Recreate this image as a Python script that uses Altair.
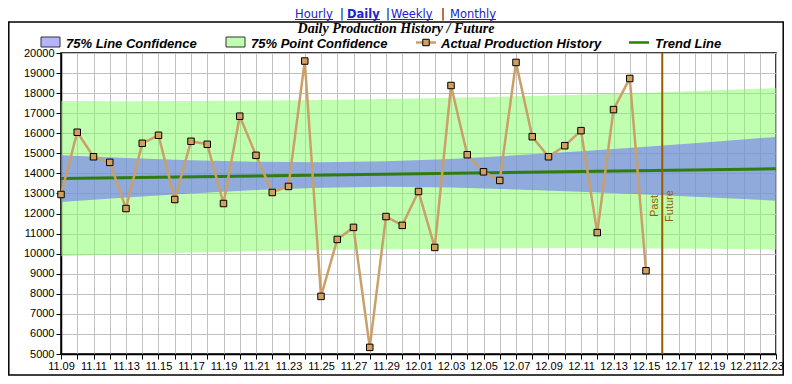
import altair as alt
import pandas as pd

# ---------------- data ----------------
hist_dates = pd.date_range("2023-11-09", "2023-12-15", freq="D").strftime("%Y-%m-%d").tolist()
production = [12950, 16050, 14830, 14550, 12250, 15500, 15900, 12700, 15600, 15450,
              12500, 16850, 14900, 13050, 13350, 19600, 7870, 10710, 11310, 5330,
              11850, 11410, 13100, 10310, 18380, 14930, 14080, 13650, 19530, 15830,
              14830, 15380, 16130, 11050, 17180, 18730, 9150]

band_dates = ["2023-11-09", "2023-11-13", "2023-11-17", "2023-11-21", "2023-11-25", "2023-11-29",
              "2023-12-03", "2023-12-07", "2023-12-11", "2023-12-15", "2023-12-19", "2023-12-23"]
line_lo = [12570, 12800, 13000, 13170, 13290, 13330, 13300, 13200, 13090, 12950, 12800, 12640]
line_hi = [14910, 14770, 14660, 14580, 14550, 14600, 14720, 14900, 15110, 15330, 15570, 15820]
point_lo = [9870, 9970, 10050, 10120, 10180, 10220, 10250, 10270, 10280, 10260, 10240, 10210]
point_hi = [17610, 17600, 17610, 17630, 17660, 17710, 17770, 17840, 17920, 18020, 18130, 18250]

trend_dates = ["2023-11-09", "2023-12-23"]
trend_vals = [13740, 14230]

future_start = ["2023-12-16"]
y_ticks = list(range(5000, 20001, 1000))
x_start, x_end = "2023-11-09", "2023-12-23"

# ---------------- helpers ----------------
def ms(d):
    return int(pd.Timestamp(d, tz="UTC").value // 10**6)

T0, T1 = ms(x_start), ms(x_end)
tick_vals = [ms(d) for d in pd.date_range(x_start, x_end, freq="D")]

hist_df = pd.DataFrame({"date": hist_dates, "value": production})
band_df = pd.DataFrame({"date": band_dates, "line_lo": line_lo, "line_hi": line_hi,
                        "point_lo": point_lo, "point_hi": point_hi})
trend_df = pd.DataFrame({"date": trend_dates, "value": trend_vals})
future_df = pd.DataFrame({"date": future_start})
one = alt.Data(values=[{"k": 1}])

xscale = alt.Scale(type="utc", domain=[T0, T1], nice=False)
yscale = alt.Scale(domain=[5000, 20000], nice=False, zero=False)

x_axis = alt.Axis(values=tick_vals, tickCount=200, title=None, labelAngle=0, tickSize=5,
                  labelPadding=1, labelFontSize=11, labelFlush=False, labelOverlap=False,
                  labelOffset={"condition": {"test": f"datum.value >= {T1}", "value": -6.5},
                               "value": 0},
                  labelExpr=f"(round((datum.value - {T0}) / 86400000) % 2 == 0) ? utcFormat(datum.value, '%m.%d') : ''")
y_axis = alt.Axis(values=y_ticks, tickCount=200, format="d", title=None, tickSize=5,
                  labelPadding=2, labelFontSize=11, labelOverlap=False, labelFlush=False)

X = alt.X("date:T", scale=xscale, axis=x_axis)
Xn = alt.X("date:T", scale=xscale)

point_band = alt.Chart(band_df).mark_area(color="#81ff61", opacity=0.5).encode(
    x=X, y=alt.Y("point_lo:Q", scale=yscale, axis=y_axis), y2=alt.Y2("point_hi:Q"))
line_band = alt.Chart(band_df).mark_area(color="#6e71f9", opacity=0.6).encode(
    x=Xn, y=alt.Y("line_lo:Q", scale=yscale), y2=alt.Y2("line_hi:Q"))
trend = alt.Chart(trend_df).mark_line(color="#2e7d0e", strokeWidth=3).encode(
    x=Xn, y=alt.Y("value:Q", scale=yscale))
hist_line = alt.Chart(hist_df).mark_line(color="#caa068", strokeWidth=2.5).encode(
    x=Xn, y=alt.Y("value:Q", scale=yscale))
hist_pts = alt.Chart(hist_df).mark_square(size=42, fill="#d29f5e", stroke="black",
                                         strokeWidth=1, opacity=1).encode(
    x=Xn, y=alt.Y("value:Q", scale=yscale))

future_rule = alt.Chart(future_df).mark_rule(color="#9a5c00", strokeWidth=2).encode(
    x=Xn, y=alt.value(0), y2=alt.value(301))
past_txt = alt.Chart(future_df).mark_text(text="Past", angle=270, align="center",
                                          baseline="bottom", dy=-2, font="Liberation Sans",
                                          fontSize=11, color="#9a5c00").encode(
    x=Xn, y=alt.value(153))
future_txt = alt.Chart(future_df).mark_text(text="Future", angle=270, align="center",
                                            baseline="top", dy=2, font="Liberation Sans",
                                            fontSize=11, color="#9a5c00").encode(
    x=Xn, y=alt.value(153))

# ---------------- decorations: frame, links, title, legend ----------------
deco = []
deco.append(alt.Chart(one).mark_rect(fill=None, stroke="black", strokeWidth=1.5).encode(
    x=alt.value(-52.2), x2=alt.value(722.2), y=alt.value(-31), y2=alt.value(322)))

link_color = "#2020d0"
link_base = -35
link_font = dict(font="DejaVu Sans", fontSize=11.5, align="left", baseline="alphabetic")
links = [("Hourly", 234, 272, "normal"), ("Daily", 286, 319, "bold"),
         ("Weekly", 330, 372, "normal"), ("Monthly", 389, 435, "normal")]
for word, x0, x1, wt in links:
    deco.append(alt.Chart(one).mark_text(text=word, fontWeight=wt, color=link_color,
                                         **link_font).encode(
        x=alt.value(x0), y=alt.value(link_base)))
    deco.append(alt.Chart(one).mark_rule(color=link_color, strokeWidth=1).encode(
        x=alt.value(x0), x2=alt.value(x1), y=alt.value(link_base + 1.5)))
for xs in [279, 325, 380]:
    deco.append(alt.Chart(one).mark_text(text="|", color="black", **link_font).encode(
        x=alt.value(xs), y=alt.value(link_base)))

deco.append(alt.Chart(one).mark_text(text="Daily Production History / Future", align="center",
                                     baseline="middle", font="Liberation Serif", fontSize=14,
                                     fontStyle="italic", fontWeight="bold",
                                     color="black").encode(
    x=alt.value(335), y=alt.value(-24)))

leg_font = dict(font="Liberation Sans", fontSize=13, fontStyle="italic", fontWeight="bold",
                color="black", align="left", baseline="alphabetic")
deco.append(alt.Chart(one).mark_rect(fill="#b4b5fc", stroke="#333333", strokeWidth=1).encode(
    x=alt.value(-20), x2=alt.value(-1), y=alt.value(-16), y2=alt.value(-6)))
deco.append(alt.Chart(one).mark_text(text="75% Line Confidence", **leg_font).encode(
    x=alt.value(5), y=alt.value(-5.5)))
deco.append(alt.Chart(one).mark_rect(fill="#c0ffb0", stroke="#333333", strokeWidth=1).encode(
    x=alt.value(165), x2=alt.value(184), y=alt.value(-16), y2=alt.value(-6)))
deco.append(alt.Chart(one).mark_text(text="75% Point Confidence", **leg_font).encode(
    x=alt.value(190), y=alt.value(-5.5)))
deco.append(alt.Chart(one).mark_rule(color="#caa068", strokeWidth=2.5).encode(
    x=alt.value(355), x2=alt.value(375), y=alt.value(-10.5)))
deco.append(alt.Chart(one).mark_square(size=42, fill="#d29f5e", stroke="black",
                                       strokeWidth=1, opacity=1).encode(
    x=alt.value(365), y=alt.value(-10.5)))
deco.append(alt.Chart(one).mark_text(text="Actual Production History", **leg_font).encode(
    x=alt.value(380), y=alt.value(-5.5)))
deco.append(alt.Chart(one).mark_rule(color="#2e7d0e", strokeWidth=2.5).encode(
    x=alt.value(568), x2=alt.value(588), y=alt.value(-10.5)))
deco.append(alt.Chart(one).mark_text(text="Trend Line", **leg_font).encode(
    x=alt.value(594), y=alt.value(-5.5)))

chart = alt.layer(point_band, line_band, trend, hist_line, hist_pts, future_rule,
                  past_txt, future_txt, *deco).properties(
    width=715, height=301,
    autosize=alt.AutoSizeParams(type="none"),
    padding={"left": 53, "top": 45, "right": 8, "bottom": 22},
    background="white",
).configure_view(stroke="black", strokeWidth=1.5).configure_axis(
    gridColor="#c0c0c0", gridWidth=1, gridOpacity=1, domainColor="black", domainWidth=1.5,
    tickColor="black", tickWidth=1, labelColor="black", labelFont="Liberation Sans",
)

chart.save("out.html", embed_options={"renderer": "svg", "actions": False})
